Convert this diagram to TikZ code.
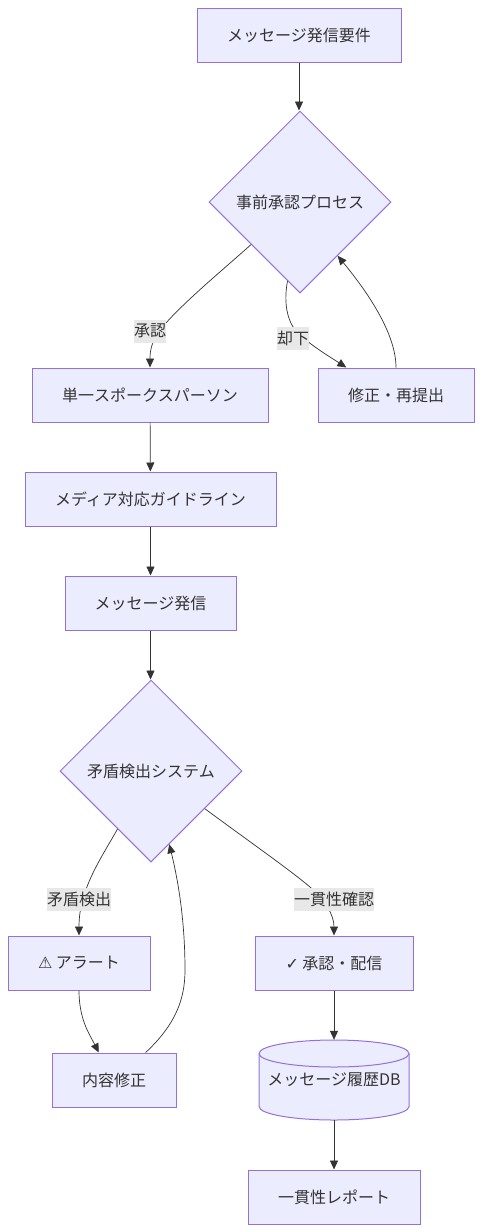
\documentclass[tikz,border=0pt]{standalone}
\usepackage{fontspec}
\setmainfont{Noto Sans CJK JP}
\newfontfamily\symfont{DejaVu Sans}
\usetikzlibrary{arrows.meta,shapes.geometric,backgrounds}
\definecolor{nodefill}{HTML}{ECECFF}
\definecolor{nodeline}{HTML}{9370DB}
\definecolor{ink}{HTML}{333333}
\definecolor{labelbg}{HTML}{E8E8E8}
\tikzset{
  base/.style={font=\fontsize{16}{20}\selectfont,text=ink},
  box/.style={base,draw=nodeline,fill=nodefill,line width=1pt,minimum height=54pt,inner sep=0pt},
  decision/.style={base,diamond,aspect=1,draw=nodeline,fill=nodefill,line width=1pt,minimum width=182pt,minimum height=182pt,inner sep=0pt},
  dbnode/.style={base,minimum width=150pt,minimum height=80pt,inner sep=0pt},
  tag/.style={base,fill=labelbg,inner sep=0pt,minimum height=23pt},
  link/.style={draw=ink,line width=0.7pt,-{Triangle[length=9pt,width=8pt]}}
}
\begin{document}
\begin{tikzpicture}[x=1pt,y=-1pt]
\useasboundingbox (0,0) rectangle (482,1232);
\node[box,minimum width=204pt] (A) at (299,35) {メッセージ発信要件};
\node[decision] (B) at (300,202) {事前承認プロセス};
\node[box,minimum width=236pt] (C) at (150,395) {単一スポークスパーソン};
\node[box,minimum width=156pt] (D) at (396,395) {修正・再提出};
\node[box,minimum width=251pt] (E) at (150.5,499) {メディア対応ガイドライン};
\node[box,minimum width=171pt] (F) at (150.5,603) {メッセージ発信};
\node[decision] (G) at (151,771) {矛盾検出システム};
\node[box,minimum width=142pt] (H) at (79,963) {{\symfont ⚠} アラート};
\node[box,minimum width=158pt] (I) at (334,963) {{\symfont ✓} 承認・配信};
\node[box,minimum width=124pt] (J) at (114,1080) {内容修正};
\node[dbnode] (K) at (334,1080) {\raisebox{-9pt}{メッセージ履歴DB}};
\node[box,minimum width=172pt] (L) at (334,1197) {一貫性レポート};
\begin{scope}[on background layer]
\draw[draw=nodeline,fill=nodefill,line width=1pt]
  (259,1053.5) .. controls (259,1046) and (292.6,1040) .. (334,1040)
  .. controls (375.4,1040) and (409,1046) .. (409,1053.5)
  -- (409,1106.5) .. controls (409,1114) and (375.4,1120) .. (334,1120)
  .. controls (292.6,1120) and (259,1114) .. (259,1106.5) -- cycle;
\draw[draw=nodeline,line width=1pt]
  (259,1053.5) .. controls (259,1061) and (292.6,1067) .. (334,1067)
  .. controls (375.4,1067) and (409,1061) .. (409,1053.5);
\end{scope}
\draw[link] (A) -- (A |- B.north);
\draw[link] (B.221) .. controls (225,268) and (180,305) .. (160,330) .. controls (152,341) and (150,350) .. (C.north);
\draw[link] (B.261) .. controls (283,305) and (288,325) .. (300,335) .. controls (312,346) and (330,357) .. (D.151);
\draw[link] (D.north) .. controls (396,335) and (370,295) .. (B.305.6);
\draw[link] (C) -- (E);
\draw[link] (E) -- (F);
\draw[link] (F) -- (F |- G.north);
\draw[link] (G.240) .. controls (100,860) and (79,890) .. (H.north);
\draw[link] (G.325) .. controls (250,842) and (290,870) .. (310,887) .. controls (325,900) and (334,915) .. (I.north);
\draw[link] (H.south) .. controls (79,1020) and (90,1035) .. (J.119);
\draw[link] (J.41) .. controls (175,1025) and (185,1000) .. (185,970) .. controls (185,920) and (178,880) .. (G.284.8);
\draw[link] (I) -- (K.north);
\draw[link] (K.south) -- (L);
\node[tag] (t1) at (150,331) {承認};
\node[tag] (t2) at (293,338) {却下};
\node[tag] (t3) at (79,899) {矛盾検出};
\node[tag] (t4) at (334,899) {一貫性確認};
\end{tikzpicture}
\end{document}
